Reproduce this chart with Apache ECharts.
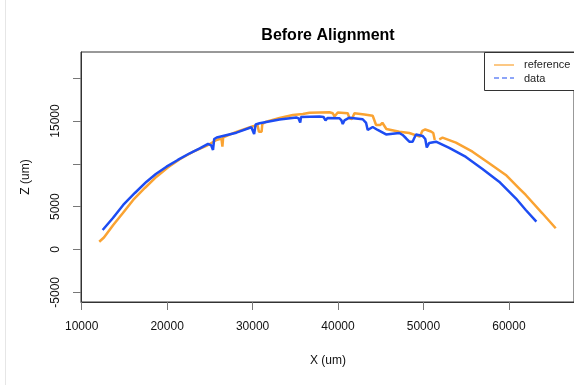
<!DOCTYPE html>
<html>
<head>
<meta charset="utf-8">
<script src="https://cdn.jsdelivr.net/npm/echarts@6/dist/echarts.min.js"></script>
<style>
  html, body { margin: 0; padding: 0; background: #fff; }
  #chart { width: 574px; height: 385px; }
</style>
</head>
<body>
<div id="chart"></div>
<script>
// reference profile (orange), null = gap in the trace
var refX = [12056, 12605, 13691, 14824, 16027, 17393, 18760, 20080, 21481, 23000, 24600, 25768, 26352, 26469, 26560,
  28104, 30043, 30592, 30744, 31059, 31141, 31608, 33161, 34715, 35883, 36665, 37833, 39001, 39387, 39585, 39783,
  39971, 41139, 41337, 41629, 41921, 43089, 44059, 44456, 44958, 45192, 45425, 45659, 47177, 48345, 49572, 49864,
  50214, 50880, 51149, 51324, 51600, 51849, 52235, 53800, 55739, 57689, 59640, 61193, 61976, 63915, 65480];
var refZ = [911, 1402, 2862, 4263, 5782, 7183, 8503, 9578, 10535, 11388, 12089, 12790, 12965, 12007, 13082,
  13724, 14390, 14483, 13759, 13759, 14658, 14927, 15359, 15710, 15826, 15978, 16002, 16025, 15908, 15534, 15593,
  16002, 15908, 15324, 15242, 15908, 15768, 15616, 14542, 14542, 14799, 14717, 14074, 13759, 13607, 13175, 13841,
  14016, 13782, 13607, 12790, null, 12871, 13058, 12474, 11423, 10068, 8702, 7148, 6366, 4228, 2476];

// measured data profile (blue)
var dataX = [12453, 13656, 14859, 16225, 17592, 18678, 19928, 21248, 22649, 23817, 24787, 25161, 25371, 25511, 25803,
  28104, 29856, 30066, 30183, 30358, 30825, 33161, 35112, 35381, 35579, 35673, 35883, 37833, 38301, 38534, 38768,
  39001, 40169, 40403, 40555, 40753, 40952, 41337, 42891, 43288, 43475, 44059, 44643, 45624, 47177, 47563, 47960,
  48345, 48731, 48929, 49128, 49899, 50214, 50389, 50681, 51464, 53017, 54968, 56907, 58857, 60808, 61976, 63214];
var dataZ = [2278, 3679, 5198, 6599, 7919, 8818, 9671, 10454, 11236, 11797, 12322, 12147, 11622, 12906, 13082,
  13642, 14273, 14074, 13490, 14600, 14740, 15184, 15418, 15301, 14810, 15476, 15511, 15534, 15476, 15067, 15359,
  15441, 15324, 15067, 14658, 15067, 15207, 15394, 15207, 14775, 13958, 14308, 13958, 13432, 13607, 13374, 12988,
  12591, 12591, 13023, 13432, 13257, 12906, 11914, 12439, 12591, 11855, 10804, 9402, 7919, 5980, 4614, 3247];

var xTicks = [10000, 20000, 30000, 40000, 50000, 60000];
var yTicks = [-5000, 0, 5000, 10000, 15000, 20000];
var yLabels = [-5000, 0, 5000, 15000];

var FONT = "'Liberation Sans', Arial, Helvetica, sans-serif";
var ORANGE = '#faa332';
var BLUE = '#1d4cf2';

function pairs(xs, zs) {
  var out = [];
  for (var i = 0; i < xs.length; i++) {
    out.push([xs[i], zs[i] === null ? '-' : zs[i]]);
  }
  return out;
}

function plain(v) { return String(v); }

var chart = echarts.init(document.getElementById('chart'), null, { renderer: 'canvas' });

var option = {
  animation: false,
  backgroundColor: '#fff',
  textStyle: { fontFamily: FONT },
  grid: {
    show: true,
    left: 81, top: 52, width: 494, height: 250,
    borderColor: '#333', borderWidth: 1,
    containLabel: false
  },
  xAxis: {
    type: 'value',
    min: 9920, max: 67620,
    splitLine: { show: false },
    axisLine: { show: true, onZero: false, lineStyle: { color: '#333' } },
    axisTick: { show: true, length: 8, customValues: xTicks, lineStyle: { color: '#777' } },
    axisLabel: { customValues: xTicks, formatter: plain, margin: 19, fontSize: 12, color: '#111', fontFamily: FONT }
  },
  yAxis: {
    type: 'value',
    min: -6130, max: 23060,
    splitLine: { show: false },
    axisLine: { show: true, onZero: false, lineStyle: { color: '#333' } },
    axisTick: { show: true, length: 8, customValues: yTicks, lineStyle: { color: '#777' } },
    axisLabel: { customValues: yLabels, formatter: plain, rotate: 90, margin: 19, fontSize: 12, color: '#111', fontFamily: FONT }
  },
  graphic: [
    { type: 'line', shape: { x1: 5.5, y1: 0, x2: 5.5, y2: 385 }, style: { stroke: '#e6e6e6', lineWidth: 1 } },
    { type: 'text', x: 328, y: 36, style: { text: 'Before Alignment', font: 'bold 16px ' + FONT, fill: '#000', align: 'center', verticalAlign: 'middle' } },
    { type: 'text', x: 328, y: 361, style: { text: 'X (um)', font: '12px ' + FONT, fill: '#111', align: 'center', verticalAlign: 'middle' } },
    { type: 'text', x: 26, y: 177, rotation: Math.PI / 2, style: { text: 'Z (um)', font: '12px ' + FONT, fill: '#111', align: 'center', verticalAlign: 'middle' } },
    // legend box (runs off the right edge like the original)
    { type: 'rect', z: 100, shape: { x: 484.5, y: 52.5, width: 120, height: 38 }, style: { fill: '#fff', stroke: '#333', lineWidth: 1 } },
    { type: 'line', z: 101, shape: { x1: 494, y1: 65, x2: 514, y2: 65 }, style: { stroke: ORANGE, lineWidth: 1.2 } },
    { type: 'line', z: 101, shape: { x1: 494, y1: 78, x2: 514, y2: 78 }, style: { stroke: BLUE, lineWidth: 1.2, lineDash: [5, 3] } },
    { type: 'text', z: 101, x: 524, y: 65, style: { text: 'reference', font: '11px ' + FONT, fill: '#222', align: 'left', verticalAlign: 'middle' } },
    { type: 'text', z: 101, x: 524, y: 78.5, style: { text: 'data', font: '11px ' + FONT, fill: '#222', align: 'left', verticalAlign: 'middle' } }
  ],
  series: [
    {
      name: 'reference', type: 'line', symbol: 'none', connectNulls: false,
      lineStyle: { color: ORANGE, width: 2.5 }, itemStyle: { color: ORANGE },
      data: pairs(refX, refZ)
    },
    {
      name: 'data', type: 'line', symbol: 'none',
      lineStyle: { color: BLUE, width: 2.5 }, itemStyle: { color: BLUE },
      data: pairs(dataX, dataZ)
    }
  ]
};

chart.setOption(option);
</script>
</body>
</html>
